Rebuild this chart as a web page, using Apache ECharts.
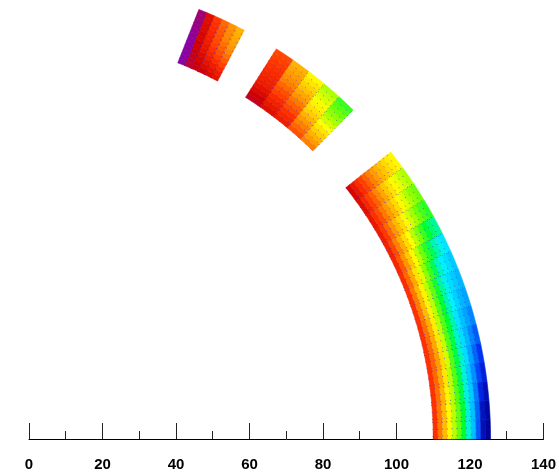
<!DOCTYPE html>
<html><head><meta charset="utf-8">
<script src="https://cdn.jsdelivr.net/npm/echarts/dist/echarts.min.js"></script>
<style>html,body{margin:0;padding:0;background:#fff}#c{width:559px;height:473px}</style>
</head><body><div id="c"></div>
<script>
// x axis
const xMin = 0, xMax = 140, xStep = 20;
// radial cell edges (shared by all segments)
const radialEdges = [110.0,111.3,112.6,113.9,115.2,116.5,117.8,119.1,120.4,121.7,123.0,124.3,125.6];
// angular cell edges (degrees) of the three segments
const bottomAngles = [0,2.4,4.8,7.2,9.6,12,14.4,16.8,19.2,21.6,24,26.4,28.8,31.2,33.6,36,38.4];
const middleAngles = [45.4,47.84,50.28,52.72,55.16,57.6];
const topAngles = [62.2,63.23,64.27,65.3,66.33,67.37,68.4];
// cell values (rows = angle cells, columns = radial cells, inner -> outer)
const bottomValues = [
  [9.0,8.1,7.1,6.1,5.4,4.7,4.0,3.2,2.5,1.5,0.4,0.1],
  [9.0,8.1,7.1,6.1,5.4,4.7,4.0,3.2,2.5,1.6,0.5,0.2],
  [9.0,8.2,7.2,6.2,5.4,4.6,3.9,3.2,2.6,1.8,0.9,0.4],
  [9.0,8.3,7.4,6.4,5.4,4.6,3.9,3.2,2.6,2.0,1.3,0.8],
  [9.0,8.4,7.6,6.6,5.6,4.6,3.9,3.3,2.8,2.2,1.6,1.1],
  [9.0,8.3,7.4,6.4,5.5,4.6,3.9,3.3,2.8,2.4,1.9,1.5],
  [9.0,8.2,7.3,6.3,5.4,4.6,4.0,3.4,2.9,2.5,2.2,1.9],
  [9.0,8.1,7.1,6.2,5.4,4.6,4.0,3.4,3.0,2.7,2.4,2.2],
  [9.0,8.1,7.1,6.2,5.4,4.7,4.1,3.5,3.1,2.8,2.6,2.4],
  [9.1,8.3,7.4,6.5,5.7,5.0,4.4,3.8,3.3,3.0,2.8,2.6],
  [9.2,8.5,7.7,6.9,6.1,5.4,4.8,4.3,3.8,3.4,3.1,2.9],
  [9.3,8.7,8.0,7.3,6.6,6.0,5.4,4.9,4.4,4.0,3.7,3.5],
  [9.4,8.9,8.3,7.7,7.1,6.6,6.1,5.6,5.2,4.8,4.5,4.3],
  [9.5,9.0,8.6,8.1,7.6,7.1,6.6,6.1,5.7,5.3,5.0,4.8],
  [9.7,9.2,8.8,8.4,7.9,7.4,6.9,6.5,6.1,5.8,5.5,5.3],
  [9.9,9.5,9.1,8.8,8.4,8.0,7.6,7.2,6.9,6.6,6.3,6.1]
];
const middleValues = [
  [8.0,7.6,7.2,6.8,6.4,6.0,5.6,5.3,5.0,4.8,4.6,4.4],
  [8.6,8.3,8.0,7.6,7.2,6.8,6.5,6.2,5.9,5.7,5.5,5.3],
  [9.4,9.2,9.0,8.7,8.4,8.1,7.7,7.4,7.0,6.7,6.4,6.1],
  [9.7,9.5,9.3,9.1,8.8,8.6,8.3,8.0,7.8,7.6,7.4,7.2],
  [10.2,10.0,9.8,9.6,9.4,9.3,9.2,9.1,9.0,8.9,8.8,8.7]
];
const topValues = [
  [9.6,9.4,9.1,8.8,8.5,8.2,7.9,7.7,7.5,7.4,7.3,7.2],
  [9.8,9.6,9.4,9.1,8.8,8.6,8.4,8.2,8.0,7.9,7.8,7.7],
  [10.0,9.8,9.6,9.4,9.2,9.0,8.8,8.7,8.6,8.5,8.4,8.3],
  [10.1,10.0,9.9,9.8,9.6,9.5,9.4,9.3,9.2,9.1,9.0,8.9],
  [10.3,10.3,10.2,10.1,10.0,10.0,9.9,9.9,9.8,9.8,9.7,9.7],
  [11.0,11.0,11.0,11.0,11.0,11.0,10.9,10.9,10.8,10.8,10.7,10.7]
];
const palette = ['#000090','#0028f0','#0090ff','#00f0ff','#00ff30','#8cff00','#ffff00','#ffc000','#ff8000','#ff3000','#d00000','#8c00a0'];

const segments = [
  {angles: bottomAngles, values: bottomValues},
  {angles: middleAngles, values: middleValues},
  {angles: topAngles, values: topValues}
];
const cells = [];
segments.forEach((s, si) => {
  s.values.forEach((row, ri) => {
    row.forEach((v, ci) => cells.push([v, si, ri, ci]));
  });
});

const chart = echarts.init(document.getElementById('c'), null, {renderer: 'canvas'});
const D = Math.PI / 180;
chart.setOption({
  animation: false,
  backgroundColor: '#fff',
  grid: {left: 29, right: 15, top: 0, bottom: 34},
  xAxis: {
    type: 'value', min: xMin, max: xMax, interval: xStep,
    axisLine: {lineStyle: {color: '#000', width: 1}},
    axisTick: {inside: true, length: 16, lineStyle: {color: '#222'}},
    minorTick: {show: true, splitNumber: 2, length: 8, lineStyle: {color: '#222'}},
    splitLine: {show: false},
    axisLabel: {margin: 18, fontSize: 15, fontWeight: 'bold', color: '#000', fontFamily: 'Liberation Sans'}
  },
  yAxis: {type: 'value', min: 0, max: 439 / (515 / 140), show: false},
  visualMap: {
    show: false, type: 'continuous', min: 0, max: 11, dimension: 0, seriesIndex: 0,
    inRange: {color: palette}
  },
  series: [{
    type: 'custom',
    coordinateSystem: 'cartesian2d',
    clip: false,
    data: cells,
    encode: {x: -1, y: -1},
    renderItem: function (params, api) {
      const si = api.value(1), ri = api.value(2), ci = api.value(3);
      const ang = segments[si].angles;
      const a0 = ang[ri], a1 = ang[ri + 1];
      const r0 = radialEdges[ci], r1 = radialEdges[ci + 1];
      const n = 4, pts = [];
      for (let k = 0; k <= n; k++) {
        const a = (a0 + (a1 - a0) * k / n) * D;
        pts.push(api.coord([r0 * Math.cos(a), r0 * Math.sin(a)]));
      }
      for (let k = n; k >= 0; k--) {
        const a = (a0 + (a1 - a0) * k / n) * D;
        pts.push(api.coord([r1 * Math.cos(a), r1 * Math.sin(a)]));
      }
      const col = api.visual('color');
      // dotted cell edges: the inner arc and the lower-angle radial side
      const edge = [pts[n], pts[0], pts[2 * n + 1]];
      return {
        type: 'group',
        children: [
          {type: 'polygon', shape: {points: pts}, style: {fill: col, stroke: col, lineWidth: 0.6}},
          {type: 'polyline', shape: {points: edge}, style: {fill: null, stroke: 'rgba(20,20,230,0.55)', lineWidth: 1, lineDash: [1, 6]}}
        ]
      };
    }
  }]
});
</script></body></html>
